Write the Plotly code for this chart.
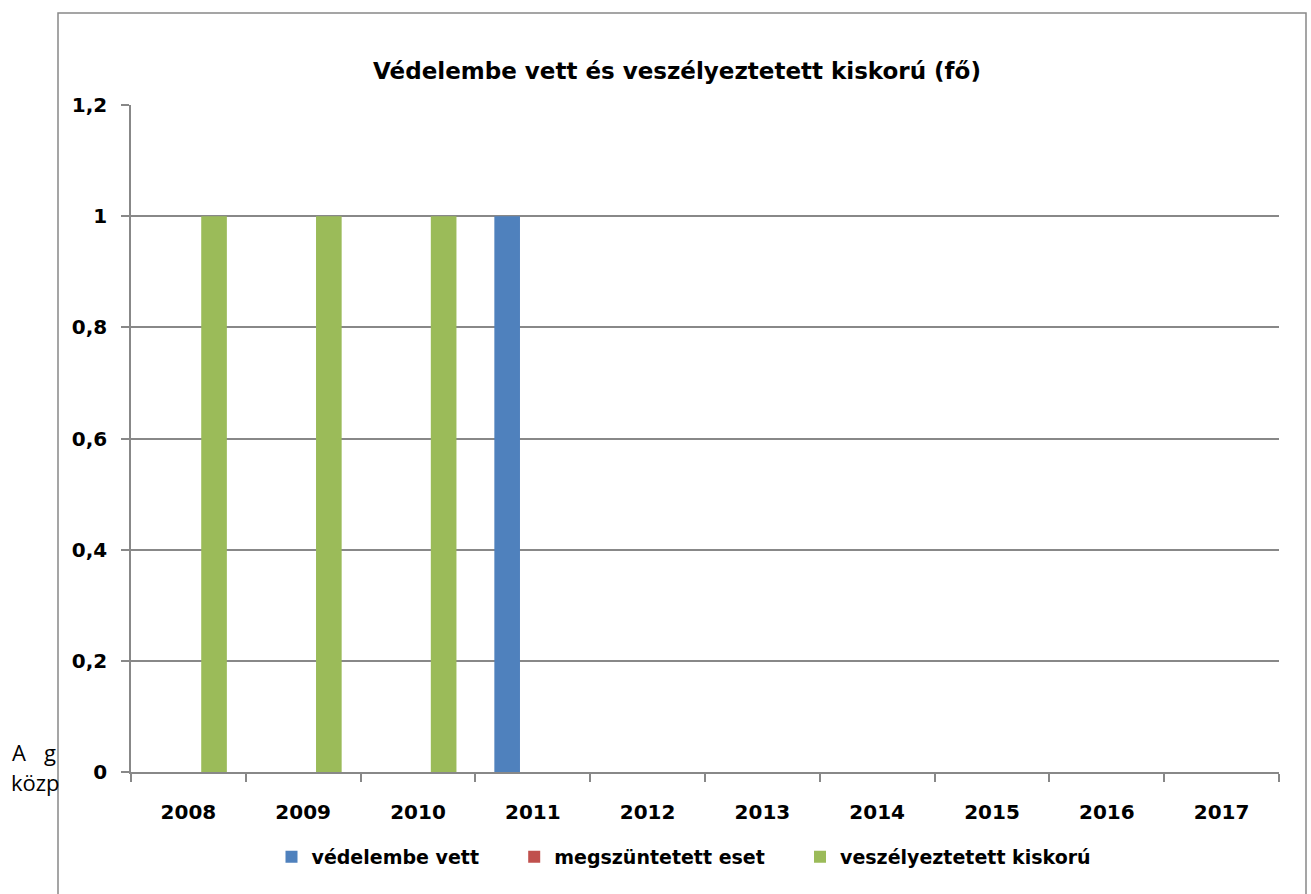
import plotly.graph_objects as go

years = ["2008", "2009", "2010", "2011", "2012", "2013", "2014", "2015", "2016", "2017"]
vedelembe_vett = [0, 0, 0, 1, 0, 0, 0, 0, 0, 0]
megszuntetett_eset = [0, 0, 0, 0, 0, 0, 0, 0, 0, 0]
veszelyeztetett_kiskoru = [1, 1, 1, 0, 0, 0, 0, 0, 0, 0]
y_ticks = [0, 0.2, 0.4, 0.6, 0.8, 1, 1.2]
y_tick_labels = ["0", "0,2", "0,4", "0,6", "0,8", "1", "1,2"]

FONT = "DejaVu Sans"
PAD = "&nbsp;" * 5
fig = go.Figure()
fig.add_trace(go.Bar(x=years, y=vedelembe_vett, name="<b>védelembe vett</b>" + PAD,
                     marker=dict(color="#4F81BD", line=dict(width=0))))
fig.add_trace(go.Bar(x=years, y=megszuntetett_eset, name="<b>megszüntetett eset</b>" + PAD,
                     marker=dict(color="#C0504D", line=dict(width=0))))
fig.add_trace(go.Bar(x=years, y=veszelyeztetett_kiskoru, name="<b>veszélyeztetett kiskorú</b>",
                     marker=dict(color="#9BBB59", line=dict(width=0))))

L, R, T, B = 131, 1279, 105, 772
W, H = 1311, 894
pw, ph = R - L, B - T

def px(x):
    return (x - L) / pw

def py(y):
    return (B - y) / ph

fig.update_layout(
    width=W, height=H,
    margin=dict(l=L, r=W - R, t=T, b=H - B, pad=0),
    paper_bgcolor="white", plot_bgcolor="white",
    barmode="group", bargap=0.33, bargroupgap=0,
    font=dict(family=FONT, color="black"),
    title=dict(text="<b>Védelembe vett és veszélyeztetett kiskorú (fő)</b>",
               x=677 / W, xanchor="center", y=1 - 71 / H, yanchor="middle",
               font=dict(size=23, family=FONT, color="black")),
    xaxis=dict(type="category", tickson="boundaries", ticks="outside", ticklen=8,
               tickcolor="#888888", tickwidth=1.5, showline=True, linecolor="#888888",
               linewidth=1.5, showgrid=False, ticklabelstandoff=21,
               tickvals=years, ticktext=[f"<b>{y}</b>" for y in years],
               tickfont=dict(size=20, family=FONT, color="black"), fixedrange=True),
    yaxis=dict(range=[0, 1.2], tickvals=y_ticks, ticktext=[f"<b>{t}</b>" for t in y_tick_labels],
               ticks="outside", ticklen=8, tickcolor="#888888", tickwidth=1.5,
               showline=True, linecolor="#888888", linewidth=1.5,
               showgrid=True, gridcolor="#888888", gridwidth=1.5, zeroline=False,
               ticklabelstandoff=10,
               tickfont=dict(size=20, family=FONT, color="black")),
    legend=dict(orientation="h", x=px(684), xanchor="center", y=py(857), yanchor="middle",
                font=dict(size=19, family=FONT, color="black"), traceorder="normal",
                itemwidth=30, bgcolor="rgba(0,0,0,0)"),
    showlegend=True,
)

fig.add_shape(type="rect", xref="paper", yref="paper",
              x0=px(58), x1=px(1306), y0=py(900), y1=py(13),
              line=dict(color="#888888", width=1.5), fillcolor="rgba(0,0,0,0)", layer="below")

fig.add_annotation(text="A", xref="paper", yref="paper", x=px(10), y=py(752),
                   xanchor="left", yanchor="middle", showarrow=False,
                   font=dict(size=22, family="Open Sans", color="black"))
fig.add_annotation(text="g", xref="paper", yref="paper", x=px(42), y=py(752),
                   xanchor="left", yanchor="middle", showarrow=False,
                   font=dict(size=22, family="Open Sans", color="black"))
fig.add_annotation(text="közp", xref="paper", yref="paper", x=px(9), y=py(782),
                   xanchor="left", yanchor="middle", showarrow=False,
                   font=dict(size=22, family="Open Sans", color="black"))

fig.write_html("out.html", config={"displayModeBar": False},
               post_script="document.body.style.margin='0';")
